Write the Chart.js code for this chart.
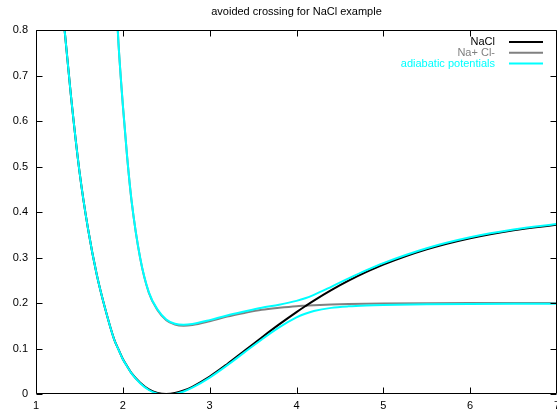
<!DOCTYPE html>
<html>
<head>
<meta charset="utf-8">
<script src="https://cdn.jsdelivr.net/npm/chart.js@4/dist/chart.umd.min.js"></script>
<style>
  html, body { margin: 0; padding: 0; background: #fff; }
</style>
</head>
<body>
<canvas id="myChart" width="557" height="417"></canvas>
<script>
// internuclear distance (x axis)
var rValues = [1.3, 1.4, 1.5, 1.6, 1.7, 1.8, 1.9, 1.95, 2.0, 2.05, 2.1, 2.2, 2.3, 2.4, 2.5, 2.6, 2.7, 2.8,
  3.0, 3.2, 3.4, 3.6, 3.8, 4.0, 4.1, 4.2, 4.4, 4.6, 4.8, 5.0, 5.5, 6.0, 6.5, 7.0];

// covalent curve
var naclValues = [0.86, 0.66, 0.49, 0.362, 0.262, 0.185, 0.12, 0.098, 0.077, 0.061, 0.046, 0.0248, 0.0102, 0.0024, 0, 0.002, 0.0076, 0.0159,
  0.0383, 0.0655, 0.0948, 0.1243, 0.153, 0.18, 0.1928, 0.2052, 0.2282, 0.249, 0.2677, 0.2844, 0.318, 0.3424, 0.3598, 0.372];

// ionic curve
var ionValues = [null, null, null, null, null, null, 0.95, 0.77, 0.635, 0.52, 0.425, 0.298, 0.222, 0.184, 0.162, 0.1525, 0.15, 0.1516,
  0.16, 0.17, 0.178, 0.185, 0.1895, 0.193, 0.194, 0.195, 0.1967, 0.1978, 0.1985, 0.199, 0.1996, 0.1999, 0.2, 0.2];

// adiabatic potentials
var lowerValues = [0.86, 0.66, 0.49, 0.362, 0.262, 0.185, 0.1198, 0.0978, 0.0765, 0.0606, 0.0452, 0.0238, 0.0088, 0.0008, -0.0018, 0.0001, 0.0056, 0.0138,
  0.036, 0.0628, 0.0915, 0.1199, 0.1463, 0.1683, 0.1764, 0.1824, 0.1893, 0.1927, 0.1946, 0.1957, 0.1972, 0.1979, 0.1982, 0.1983];
var upperValues = [null, null, null, null, null, null, 0.9502, 0.7703, 0.6356, 0.5206, 0.4258, 0.299, 0.2234, 0.1856, 0.1638, 0.1544, 0.152, 0.1538,
  0.1624, 0.1727, 0.1813, 0.1894, 0.1962, 0.2047, 0.2104, 0.2179, 0.2356, 0.2541, 0.2717, 0.2877, 0.3204, 0.3444, 0.3616, 0.3737];

var xTicks = [1, 2, 3, 4, 5, 6, 7];
var yTicks = [0, 0.1, 0.2, 0.3, 0.4, 0.5, 0.6, 0.7, 0.8];

var titleText = 'avoided crossing for NaCl example';
var fontFamily = '"Liberation Sans", Arial, sans-serif';

function toPoints(ys) {
  return rValues.map(function (r, i) {
    return { x: r, y: ys[i] };
  }).filter(function (p) { return p.y !== null; });
}

function lineSet(label, ys, color, order, inLegend) {
  return {
    label: label,
    data: toPoints(ys),
    borderColor: color,
    backgroundColor: color,
    borderWidth: 2,
    pointRadius: 0,
    fill: false,
    cubicInterpolationMode: 'monotone',
    order: order,
    inLegend: inLegend
  };
}

var datasets = [
  lineSet('NaCl', naclValues, '#000000', 1, true),
  lineSet('Na+ Cl-', ionValues, '#808080', 2, true),
  lineSet('adiabatic potentials', lowerValues, '#00ffff', 0, true),
  lineSet('adiabatic potentials', upperValues, '#00ffff', 0, false)
];

// frame, inward ticks on all sides, title and gnuplot-like key
var framePlugin = {
  id: 'frame',
  afterDraw: function (chart) {
    var ctx = chart.ctx;
    var a = chart.chartArea;
    var xs = chart.scales.x, ys = chart.scales.y;
    ctx.save();
    ctx.strokeStyle = '#000';
    ctx.lineWidth = 1;
    var l = Math.round(a.left) + 0.5, r = Math.round(a.right) - 0.5;
    var t = Math.round(a.top) + 0.5, b = Math.round(a.bottom) - 0.5;
    ctx.beginPath();
    ctx.rect(l, t, r - l, b - t);
    xTicks.forEach(function (v) {
      var px = Math.round(xs.getPixelForValue(v)) + 0.5;
      ctx.moveTo(px, b); ctx.lineTo(px, b - 6);
      ctx.moveTo(px, t); ctx.lineTo(px, t + 6);
    });
    yTicks.forEach(function (v) {
      var py = Math.round(ys.getPixelForValue(v)) + 0.5;
      ctx.moveTo(l, py); ctx.lineTo(l + 6, py);
      ctx.moveTo(r, py); ctx.lineTo(r - 6, py);
    });
    ctx.stroke();

    // title
    ctx.fillStyle = '#000';
    ctx.font = '11px ' + fontFamily;
    ctx.textAlign = 'center';
    ctx.textBaseline = 'middle';
    ctx.fillText(titleText, (a.left + a.right) / 2, 12);

    // key
    var y0 = 42;
    ctx.textAlign = 'right';
    chart.data.datasets.forEach(function (ds) {
      if (!ds.inLegend) return;
      ctx.fillStyle = ds.borderColor;
      ctx.fillText(ds.label, 495, y0);
      ctx.strokeStyle = ds.borderColor;
      ctx.lineWidth = 2;
      ctx.beginPath();
      ctx.moveTo(509, y0);
      ctx.lineTo(543, y0);
      ctx.stroke();
      y0 += 10.8;
    });
    ctx.restore();
  }
};

var ctx = document.getElementById('myChart').getContext('2d');
var myChart = new Chart(ctx, {
  type: 'line',
  data: { datasets: datasets },
  options: {
    responsive: false,
    animation: false,
    layout: { padding: { top: 30, right: 0, bottom: 0, left: 0 } },
    plugins: {
      legend: { display: false },
      tooltip: { enabled: false }
    },
    scales: {
      x: {
        type: 'linear',
        min: 1,
        max: 7,
        afterBuildTicks: function (scale) {
          scale.ticks = xTicks.map(function (v) { return { value: v }; });
        },
        afterFit: function (scale) {
          scale.height = 23;
          scale.paddingLeft = 0;
          scale.paddingRight = 0;
        },
        grid: { display: false, drawTicks: false },
        border: { display: false },
        ticks: {
          padding: 5,
          maxRotation: 0,
          autoSkip: false,
          color: '#000',
          font: { family: fontFamily, size: 11 },
          callback: function (v) { return String(v); }
        }
      },
      y: {
        type: 'linear',
        min: 0,
        max: 0.8,
        afterBuildTicks: function (scale) {
          scale.ticks = yTicks.map(function (v) { return { value: v }; });
        },
        afterFit: function (scale) {
          scale.width = 36;
          scale.paddingTop = 0;
          scale.paddingBottom = 0;
        },
        grid: { display: false, drawTicks: false },
        border: { display: false },
        ticks: {
          padding: 8,
          autoSkip: false,
          color: '#000',
          font: { family: fontFamily, size: 11 },
          callback: function (v) { return String(+v.toFixed(1)); }
        }
      }
    }
  },
  plugins: [framePlugin]
});
</script>
</body>
</html>
